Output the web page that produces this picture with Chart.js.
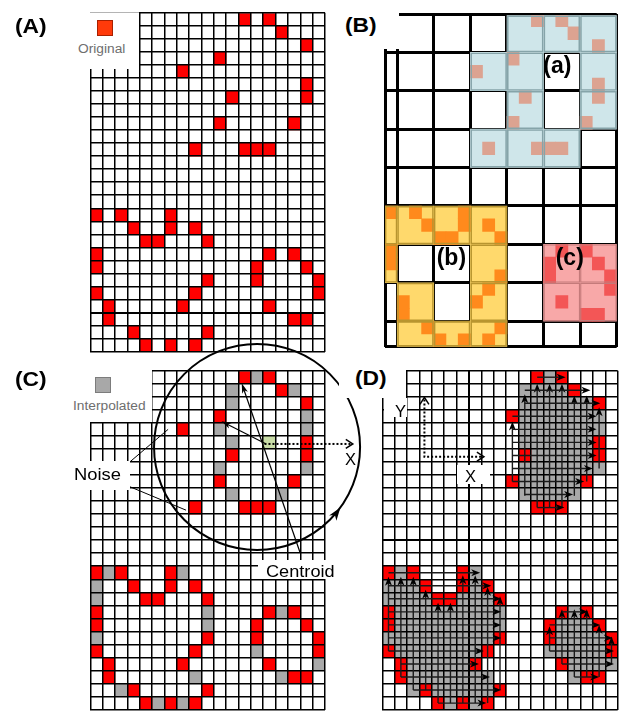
<!DOCTYPE html>
<html>
<head>
<meta charset="utf-8">
<title>Cell clusters: detection, grouping, interpolation and scanning</title>
<script src="https://cdn.jsdelivr.net/npm/chart.js@4/dist/chart.umd.min.js"></script>
<style>
  html, body { margin: 0; padding: 0; background: #fff; }
  #stage { position: relative; width: 619px; height: 711px; overflow: hidden; font-family: "Liberation Sans", Arial, sans-serif; }
  #stage canvas { position: absolute; left: 0; top: 0; }
  .mask { position: absolute; background: #fff; }
  .txt { position: absolute; line-height: 1; white-space: nowrap; color: #000; transform-origin: 0 0; }
  .panel { font-weight: bold; font-size: 20px; transform: scaleX(1.14); }
  .sub { font-weight: bold; font-size: 23px; }
  .note { font-size: 16.5px; transform: scaleX(1.1); }
  .key { font-size: 12.5px; color: #6e6e6e; transform: scaleX(1.1); }
  .swatch { position: absolute; width: 14px; height: 14px; }
</style>
</head>
<body>
<div id="stage">
  <canvas id="chartA" width="619" height="711"></canvas>
  <canvas id="chartB" width="619" height="711"></canvas>
  <canvas id="chartD" width="619" height="711"></canvas>
  <canvas id="chartC" width="619" height="711"></canvas>

  <!-- (A) legend -->
  <div class="mask" style="left:74px;top:12px;width:65px;height:57px;"></div>
  <div class="mask" style="left:90px;top:12px;width:49px;height:1px;background:#b4b4b4;"></div>
  <div class="swatch" style="left:97px;top:20px;background:#ff3a0a;border:1px solid #a82000;"></div>
  <div class="txt key" style="left:78px;top:42.7px;">Original</div>
  <div class="txt panel" style="left:15px;top:16.4px;">(A)</div>

  <!-- (B) labels -->
  <div class="mask" style="left:330px;top:0;width:69px;height:49px;"></div>
  <div class="txt panel" style="left:345px;top:15px;">(B)</div>
  <div class="txt sub" style="left:543.3px;top:54px;">(a)</div>
  <div class="txt sub" style="left:436.7px;top:245.5px;">(b)</div>
  <div class="txt sub" style="left:555.7px;top:245.5px;">(c)</div>

  <!-- (C) legend and notes -->
  <div class="mask" style="left:72px;top:368px;width:79.5px;height:54px;"></div>
  <div class="swatch" style="left:95px;top:377px;background:#a8a8a8;border:1px solid #7c7c7c;"></div>
  <div class="txt key" style="left:73px;top:400px;">Interpolated</div>
  <div class="txt panel" style="left:15px;top:369.4px;">(C)</div>
  <div class="mask" style="left:72px;top:461px;width:58px;height:29px;"></div>
  <div class="txt note" style="left:74px;top:466.1px;font-size:17px;transform:scaleX(1.08);">Noise</div>
  <div class="mask" style="left:258px;top:559.5px;width:79px;height:19px;"></div>
  <div class="txt note" style="left:266px;top:562.9px;">Centroid</div>
  <div class="txt note" style="left:345px;top:450.9px;transform:none;">X</div>

  <!-- (D) labels -->
  <div class="mask" style="left:339px;top:362px;width:67px;height:36px;"></div>
  <div class="txt panel" style="left:355px;top:367.7px;">(D)</div>
  <div class="mask" style="left:384px;top:398px;width:23px;height:19px;"></div>
  <div class="txt note" style="left:395px;top:402.9px;transform:none;">Y</div>
  <div class="mask" style="left:457px;top:465px;width:33px;height:19px;"></div>
  <div class="txt note" style="left:465px;top:467.9px;transform:none;">X</div>
</div>

<script>
// ---- grid size shared by all four panels ----
const gridCols = 19;
const gridRows = 26;

// ---- original cells [column, row], rows counted from the top ----
const upperRing = [[12,0],[14,0],[15,1],[17,2],[10,3],[17,5],[11,6],[17,6],[10,8],[16,8],[12,10],[13,10],[14,10]];
const noiseCells = [[7,4],[8,10]];
const lowerLeftShape = [[0,15],[2,15],[6,15],[3,16],[6,16],[8,16],[4,17],[5,17],[9,17],[0,18],[0,19],
  [9,20],[0,21],[8,21],[1,22],[7,22],[1,23],[3,24],[9,24],[4,25],[6,25],[8,25]];
const lowerRightRing = [[14,18],[16,18],[13,19],[17,19],[13,20],[18,20],[18,21],[14,22],[16,23],[17,23]];

// ---- cells filled in between neighbouring originals ----
const interpolatedCells = [[13,0],[11,1],[16,1],[11,2],[17,3],[10,4],[17,4],[11,5],[10,7],[17,7],[11,9],[15,9],
  [1,15],[7,15],[0,16],[0,17],[9,18],[15,18],[9,19],[0,20],[13,21],[18,22],[8,23],[15,23],[2,24],[5,25],[7,25]];
const centroidCell = [14,5];

// ---- coarse 3x3 blocks [block column, block row]; block columns start after the first single column ----
const blocksA = [[3,0],[4,0],[5,0],[2,1],[3,1],[5,1],[3,2],[5,2],[2,3],[3,3],[4,3]];
const blocksB = [[0,5],[1,5],[2,5],[2,6],[0,7],[2,7],[0,8],[1,8],[2,8]];
const edgeRowsB = [5,6];              // block rows where the single first column is part of (b)
const blocksC = [[4,6],[5,6],[4,7],[5,7]];
const blockColLines = [0,1,4,7,10,13,16,19];
const blockRowLines = [0,3,6,9,12,15,18,21,24,26];

// ---- annotations of the interpolated grid (grid units) ----
const noiseLeaders = [[3.2,7.0,6.3,4.5],[3.2,8.9,7.75,10.7]];
const centroidPointers = [[14.2,5.6,10.62,3.88],[16.98,13.95,12.26,0.97]];
const scanDirection = [14.1,5.62,21.25];           // from x, at y, to x
const sweepCircle = { cx: 13.5, cy: 5.85, r: 8.34, headDeg: 36 };

// ---- filled regions: [row, columns] ----
const regionFill = [
  [0,[13]], [1,[11,12,13,14]], [2,[11,12,13,14,15,16]], [3,[11,12,13,14,15,16,17]],
  [4,[11,12,13,14,15,16,17]], [5,[11,12,13,14,15,16]], [6,[12,13,14,15,16]],
  [7,[11,12,13,14,15,16,17]], [8,[11,12,13,14,15]], [9,[11,12,13,14,15]],
  [15,[1,7]], [16,[0,1,2,7]], [17,[0,1,2,3,6,7,8]],
  [18,[1,2,3,4,5,6,7,8,9,15]], [19,[1,2,3,4,5,6,7,8,9,14,15,16]],
  [20,[0,1,2,3,4,5,6,7,8,14,15,16,17]], [21,[1,2,3,4,5,6,7,13,14,15,16,17]],
  [22,[2,3,4,5,6,15,16,17,18]], [23,[2,3,4,5,6,7,8,15]], [24,[2,4,5,6,7,8]], [25,[5,7]]
];
// column scans, upward: [column, from row, to row]
const scanUp = [
  [10,8.5,3.9],[11,9.6,1.8],[12,10.5,1.0],[13,10.5,1.0],[14,10.5,1.0],[15,9.6,1.9],[16,8.5,1.9],[17,7.5,2.8],
  [0,21.5,15.8],[1,23.5,15.8],[2,24.5,15.8],[3,24.5,16.8],[4,25.5,17.8],[5,25.5,17.8],[6,25.5,15.7],[7,25.5,15.7],[8,25.5,16.6],[9,24.5,17.3],
  [13,21.5,19.6],[14,22.5,18.3],[15,23.5,18.3],[16,23.5,18.3],[17,23.5,19.5],[18,22.5,20.4]
];
// row scans, rightward: [row, from column, to column]
const scanRight = [
  [0,12.5,14.8],[1,11.5,16.8],[2,11.5,17.6],[3,10.5,17.3],[4,10.5,17.3],[5,10.5,17.3],[6,10.5,17.3],[7,10.5,17.0],[8,10.5,16.3],[9,11.5,15.4],[10,12.5,14.7],
  [15,0.5,7.9],[16,0.5,8.8],[17,0.5,9.6],[18,0.5,9.6],[19,0.5,9.6],[20,0.5,9.6],[21,0.5,8.2],[22,1.5,7.8],[23,1.5,8.7],[24,2.5,9.6],[25,4.5,8.4],
  [18,14.5,16.6],[19,13.5,17.6],[20,13.5,18.6],[21,13.5,18.7],[22,14.5,18.7],[23,15.5,17.5]
];
const scanAxes = { origin: [3.4,6.6], yTip: 2.05, xTip: 8.2 };

// ---- page layout: chart area of every panel, in canvas pixels ----
const canvasW = 619, canvasH = 711;
const frames = {
  A: { left: 90.3, top: 12.7, right: 325, bottom: 351.7 },
  B: { left: 385, top: 14, right: 616.7, bottom: 346.7 },
  C: { left: 90.3, top: 370.7, right: 325, bottom: 709.6 },
  D: { left: 382.3, top: 370.7, right: 617.7, bottom: 709.6 }
};

// one floating bar per cell
const cellBars = cells => cells.map(([c, r]) => ({ x: c + 0.5, y: [r, r + 1] }));
const blockBars = blocks => blocks.map(([bc, br]) => ({ x: 1 + 3 * bc + 1.5, y: [3 * br, Math.min(3 * br + 3, gridRows)] }));
const edgeBars = rows => rows.map(br => ({ x: 0.5, y: [3 * br, Math.min(3 * br + 3, gridRows)] }));
const inBlocks = ([c, r], blocks, edgeRows) => {
  const br = Math.floor(r / 3);
  if (c === 0) return edgeRows.includes(br);
  const bc = Math.floor((c - 1) / 3);
  return blocks.some(([x, y]) => x === bc && y === br);
};
const fillCells = [];
regionFill.forEach(([r, cols]) => cols.forEach(c => fillCells.push([c, r])));

function axis(max, reverse, style, lines) {
  const a = {
    type: 'linear', min: 0, max, reverse, offset: false,
    ticks: { display: false, stepSize: 1 },
    grid: { color: '#000', lineWidth: style.width, drawTicks: false, offset: false, z: style.z },
    border: { display: false }
  };
  if (lines) a.afterBuildTicks = s => { s.ticks = lines.map(v => ({ value: v })); };
  return a;
}

function makeChart(id, frame, datasets, xAxis, yAxis, plugins) {
  return new Chart(document.getElementById(id), {
    type: 'bar',
    data: { datasets },
    options: {
      responsive: false, animation: false, events: [],
      layout: { autoPadding: false, padding: { left: frame.left, top: frame.top, right: canvasW - frame.right, bottom: canvasH - frame.bottom } },
      plugins: { legend: { display: false }, tooltip: { enabled: false }, title: { display: false } },
      datasets: { bar: { grouped: false, barPercentage: 1, categoryPercentage: 1, borderWidth: 0, borderSkipped: false, inflateAmount: 0.3 } },
      scales: { x: xAxis, y: yAxis }
    },
    plugins: plugins || []
  });
}

// ---- arrow drawing ----
function headAt(ctx, x, y, ang, len, wid) {
  ctx.save();
  ctx.translate(x, y); ctx.rotate(ang);
  ctx.beginPath();
  ctx.moveTo(0, 0); ctx.lineTo(-len, -wid / 2); ctx.lineTo(-len * 0.72, 0); ctx.lineTo(-len, wid / 2);
  ctx.closePath(); ctx.fill();
  ctx.restore();
}
function openHeadAt(ctx, x, y, ang, len, wid) {
  ctx.save();
  ctx.translate(x, y); ctx.rotate(ang);
  ctx.beginPath(); ctx.moveTo(-len, -wid / 2); ctx.lineTo(0, 0); ctx.lineTo(-len, wid / 2); ctx.stroke();
  ctx.restore();
}
function arrowLine(ctx, x0, y0, x1, y1, len, wid) {
  const ang = Math.atan2(y1 - y0, x1 - x0);
  ctx.beginPath(); ctx.moveTo(x0, y0);
  ctx.lineTo(x1 - Math.cos(ang) * len * 0.7, y1 - Math.sin(ang) * len * 0.7);
  ctx.stroke();
  headAt(ctx, x1, y1, ang, len, wid);
}

const thin = { width: 1.5, z: 1 };

// ---- (A) original cells ----
const aRows = { width: c => (c.tick && c.tick.value === 23) ? 2 : 1.5, z: 1 };
makeChart('chartA', frames.A, [
  { data: cellBars(upperRing.concat(noiseCells, lowerLeftShape, lowerRightRing)), backgroundColor: '#ff0000' }
], axis(gridCols, false, thin), axis(gridRows, true, aRows));

// ---- (B) 3x3 grouping into clusters (a), (b), (c) ----
const squaresA = upperRing.concat(noiseCells).filter(p => inBlocks(p, blocksA, []));
const squaresB = lowerLeftShape.filter(p => inBlocks(p, blocksB, edgeRowsB));
const squaresC = lowerRightRing.filter(p => inBlocks(p, blocksC, []));
const thick = { width: 3, z: -1 };
makeChart('chartB', frames.B, [
  { order: 6, data: blockBars(blocksA), barPercentage: 3, backgroundColor: '#cfe6ea' },
  { order: 6, data: blockBars(blocksB), barPercentage: 3, backgroundColor: '#ffd96c' },
  { order: 6, data: edgeBars(edgeRowsB), backgroundColor: '#ffd96c' },
  { order: 6, data: blockBars(blocksC), barPercentage: 3, backgroundColor: '#f8a8a8' },
  { order: 4, data: cellBars(squaresA), backgroundColor: '#dca391' },
  { order: 4, data: cellBars(squaresB), backgroundColor: '#ff8a1c' },
  { order: 4, data: cellBars(squaresC), backgroundColor: '#f35656' },
  { order: 2, data: blockBars(blocksA), barPercentage: 3, backgroundColor: 'rgba(0,0,0,0)', borderColor: '#86a4a9', borderWidth: 1.6, inflateAmount: 0 },
  { order: 2, data: blockBars(blocksB), barPercentage: 3, backgroundColor: 'rgba(0,0,0,0)', borderColor: '#b8952f', borderWidth: 1.6, inflateAmount: 0 },
  { order: 2, data: edgeBars(edgeRowsB), backgroundColor: 'rgba(0,0,0,0)', borderColor: '#b8952f', borderWidth: 1.4, inflateAmount: 0 },
  { order: 2, data: blockBars(blocksC), barPercentage: 3, backgroundColor: 'rgba(0,0,0,0)', borderColor: '#c47a7a', borderWidth: 1.2, inflateAmount: 0 }
], axis(gridCols, false, thick, blockColLines), axis(gridRows, true, thick, blockRowLines));

// ---- (C) interpolated cells, centroid and sweep ----
const sweepOverlay = {
  id: 'sweepOverlay',
  afterDraw(chart) {
    const { ctx, scales: { x, y } } = chart;
    const px = v => x.getPixelForValue(v), py = v => y.getPixelForValue(v);
    ctx.save();
    ctx.strokeStyle = '#000'; ctx.fillStyle = '#000';
    ctx.lineWidth = 1;
    noiseLeaders.forEach(([x0, y0, x1, y1]) => {
      ctx.beginPath(); ctx.moveTo(px(x0), py(y0)); ctx.lineTo(px(x1), py(y1)); ctx.stroke();
    });
    ctx.lineWidth = 1.2;
    centroidPointers.forEach(([x0, y0, x1, y1]) => arrowLine(ctx, px(x0), py(y0), px(x1), py(y1), 10, 6));
    const [dx0, dy, dx1] = scanDirection;
    ctx.lineWidth = 2; ctx.setLineDash([2, 2]);
    ctx.beginPath(); ctx.moveTo(px(dx0), py(dy)); ctx.lineTo(px(dx1) - 2, py(dy)); ctx.stroke();
    ctx.setLineDash([]); ctx.lineWidth = 1.5;
    openHeadAt(ctx, px(dx1), py(dy), 0, 7, 9);
    const cx = px(sweepCircle.cx), cy = py(sweepCircle.cy);
    const r = px(sweepCircle.cx + sweepCircle.r) - cx;
    ctx.lineWidth = 2;
    ctx.beginPath(); ctx.arc(cx, cy, r, 0, Math.PI * 2); ctx.stroke();
    const a = sweepCircle.headDeg * Math.PI / 180;
    headAt(ctx, cx + r * Math.cos(a), cy + r * Math.sin(a), Math.atan2(-Math.cos(a), Math.sin(a)), 13, 9);
    ctx.restore();
  }
};
makeChart('chartC', frames.C, [
  { data: cellBars(upperRing.concat(noiseCells, lowerLeftShape, lowerRightRing)), backgroundColor: '#ff0000' },
  { data: cellBars(interpolatedCells), backgroundColor: '#a9a9a9' },
  { data: cellBars([centroidCell]), backgroundColor: '#c8dca6' }
], axis(gridCols, false, thin), axis(gridRows, true, thin), [sweepOverlay]);

// ---- (D) filled regions and scan lines ----
const scanOverlay = {
  id: 'scanOverlay',
  afterDraw(chart) {
    const { ctx, scales: { x, y } } = chart;
    const px = v => x.getPixelForValue(v), py = v => y.getPixelForValue(v);
    ctx.save();
    ctx.strokeStyle = '#1a1a1a'; ctx.fillStyle = '#000';
    ctx.lineWidth = 1.4;
    scanUp.forEach(([c, r0, r1]) => arrowLine(ctx, px(c + 0.5), py(r0), px(c + 0.5), py(r1), 9, 7));
    scanRight.forEach(([r, c0, c1]) => arrowLine(ctx, px(c0), py(r + 0.5), px(c1), py(r + 0.5), 9, 7));
    const [ox, oy] = scanAxes.origin;
    ctx.strokeStyle = '#000'; ctx.lineWidth = 2; ctx.setLineDash([2, 2]);
    ctx.beginPath();
    ctx.moveTo(px(ox), py(scanAxes.yTip) + 2); ctx.lineTo(px(ox), py(oy)); ctx.lineTo(px(scanAxes.xTip) - 2, py(oy));
    ctx.stroke();
    ctx.setLineDash([]); ctx.lineWidth = 1.5;
    openHeadAt(ctx, px(ox), py(scanAxes.yTip), -Math.PI / 2, 7, 9);
    openHeadAt(ctx, px(scanAxes.xTip), py(oy), 0, 7, 9);
    ctx.restore();
  }
};
const dX = { width: c => (c.tick && c.tick.value === 7) ? 2 : 1.5, z: 1 };
const dY = { width: c => (c.tick && c.tick.value === 13) ? 2 : 1.5, z: 1 };
makeChart('chartD', frames.D, [
  { order: 2, data: cellBars(fillCells), backgroundColor: '#a9a9a9' },
  { order: 1, data: cellBars(upperRing.concat(lowerLeftShape, lowerRightRing)), backgroundColor: '#ff0000' }
], axis(gridCols, false, dX), axis(gridRows, true, dY), [scanOverlay]);
</script>
</body>
</html>
